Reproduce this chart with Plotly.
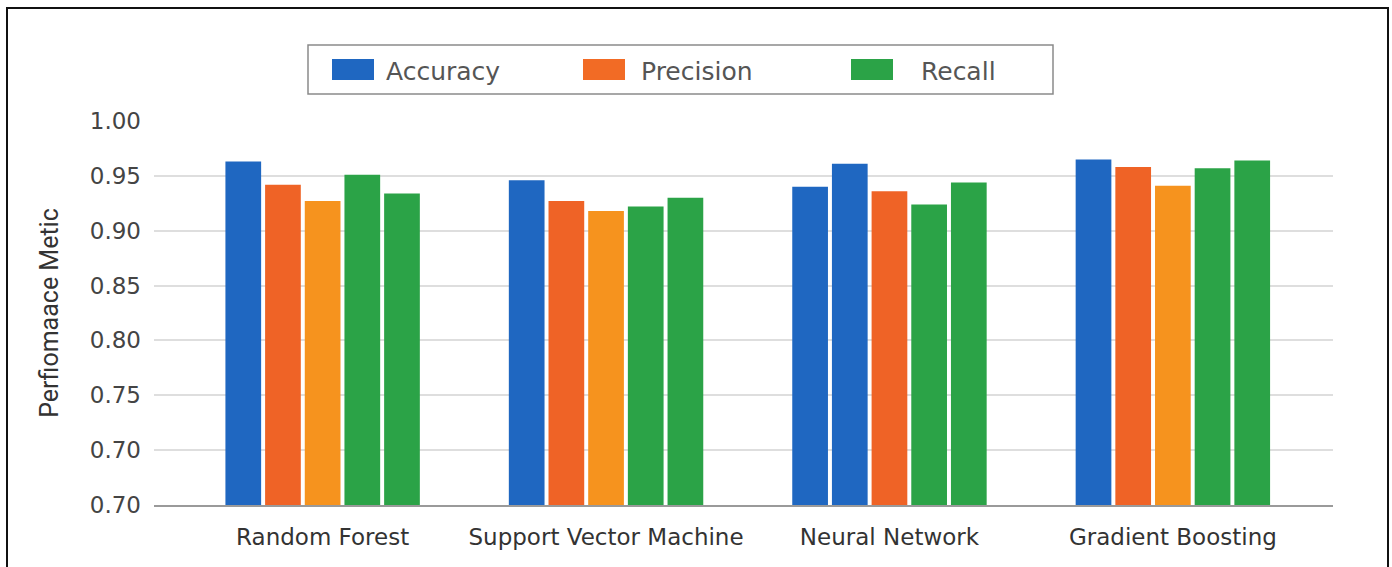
import plotly.graph_objects as go

# ---- data ----
categories = ["Random Forest", "Support Vector Machine", "Neural Network", "Gradient Boosting"]
bar1 = [0.963, 0.946, 0.940, 0.965]
bar2 = [0.942, 0.927, 0.961, 0.958]
bar3 = [0.927, 0.918, 0.936, 0.941]
bar4 = [0.951, 0.922, 0.924, 0.957]
bar5 = [0.934, 0.930, 0.944, 0.964]
tick_vals = [0.65, 0.70, 0.75, 0.80, 0.85, 0.90, 0.95, 1.00]
tick_text = ["0.70", "0.70", "0.75", "0.80", "0.85", "0.90", "0.95", "1.00"]
legend_names = ["Accuracy", "Precision", "Recall"]

# ---- styles ----
BLUE = "#1F67C1"
RED = "#EF6326"
ORANGE = "#F6931E"
GREEN = "#2BA347"
bar_colors = [
    [BLUE, BLUE, BLUE, BLUE],
    [RED, RED, BLUE, RED],
    [ORANGE, ORANGE, RED, ORANGE],
    [GREEN, GREEN, GREEN, GREEN],
    [GREEN, GREEN, GREEN, GREEN],
]
legend_colors = [BLUE, "#F26B25", GREEN]

W, H = 1392, 567
L, R, T, B = 154, 59, 121, 62
PW, PH = W - L - R, H - T - B


def px(xp):
    return (xp - L) / PW


def py(yp):
    return (H - B - yp) / PH


fig = go.Figure()
for vals, cols in zip([bar1, bar2, bar3, bar4, bar5], bar_colors):
    fig.add_trace(go.Bar(x=categories, y=vals, marker=dict(color=cols, line=dict(width=0)),
                         showlegend=False))

shapes = [
    # outer frame
    dict(type="rect", xref="paper", yref="paper", x0=px(7), x1=px(1388), y0=py(8), y1=py(600),
         line=dict(color="#111", width=2), fillcolor="rgba(0,0,0,0)", layer="above"),
    # legend box
    dict(type="rect", xref="paper", yref="paper", x0=px(308), x1=px(1053), y0=py(45), y1=py(94),
         line=dict(color="#8a8a8a", width=1.5), fillcolor="white"),
]
annotations = []
sw_x = [332, 583, 851]
tx_x = [384, 639, 919]
for name, col, sx, tx in zip(legend_names, legend_colors, sw_x, tx_x):
    shapes.append(dict(type="rect", xref="paper", yref="paper", x0=px(sx), x1=px(sx + 42),
                       y0=py(59), y1=py(80), line=dict(width=0), fillcolor=col))
    annotations.append(dict(xref="paper", yref="paper", x=px(tx), y=py(71), text=name,
                            showarrow=False, xanchor="left", yanchor="middle",
                            font=dict(family="DejaVu Sans", size=25, color="#555")))

fig.update_layout(
    width=W, height=H,
    margin=dict(l=L, r=R, t=T, b=B),
    paper_bgcolor="white", plot_bgcolor="white",
    barmode="group", bargap=0.3, bargroupgap=0.1,
    shapes=shapes, annotations=annotations,
    xaxis=dict(type="category", range=[-0.595, 3.565], showgrid=False,
               showline=True, linecolor="#9a9a9a", linewidth=2,
               tickfont=dict(family="DejaVu Sans", size=23, color="#333"),
               ticks="", ticklabelstandoff=10),
    yaxis=dict(range=[0.65, 1.0], tickvals=tick_vals, ticktext=tick_text,
               showgrid=True, gridcolor="#dedede", gridwidth=1.5, zeroline=False,
               showline=False, ticks="",
               tickfont=dict(family="DejaVu Sans", size=23, color="#444"),
               ticklabelstandoff=12,
               title=dict(text="Perfiomaace Metic", standoff=24,
                          font=dict(family="Roboto", size=25, color="#333"))),
    showlegend=False,
)

fig.write_html("out.html", config={"displayModeBar": False},
               post_script="document.body.style.margin='0';document.body.style.overflow='hidden';")
